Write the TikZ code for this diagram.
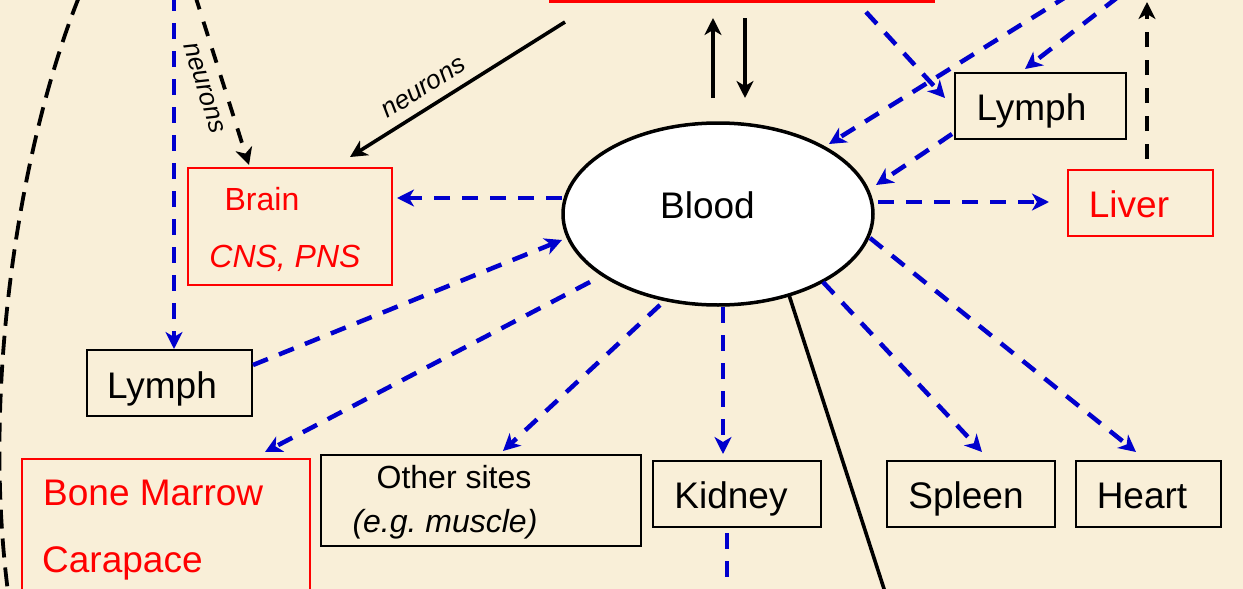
\documentclass[tikz,border=0pt]{standalone}
\usepackage{fontspec}
\setmainfont{Liberation Sans}
\usetikzlibrary{arrows.meta,shapes.geometric}
\definecolor{bgcol}{RGB}{249,239,216}
\definecolor{dblue}{RGB}{0,0,205}
\definecolor{dred}{RGB}{255,0,0}
\begin{document}
\begin{tikzpicture}[x=1pt,y=-1pt,
  tipst/.style={-{Stealth[length=17pt,width=17pt,inset=5pt]}},
  bluedash/.style={draw=dblue,line width=4.5pt,dash pattern=on 16pt off 12pt},
  bluearr/.style={bluedash,tipst},
  blackarr/.style={draw=black,line width=3.6pt,tipst},
  blackdash/.style={draw=black,line width=3.8pt,dash pattern=on 15pt off 13pt},
  redbox/.style={rectangle,draw=dred,line width=2.3pt,inner sep=0pt},
  blkbox/.style={rectangle,draw=black,line width=2.3pt,inner sep=0pt},
  bigtxt/.style={font=\fontsize{37}{42}\selectfont,inner sep=0pt},
  midtxt/.style={font=\fontsize{32}{36}\selectfont,inner sep=0pt},
  smtxt/.style={font=\fontsize{26}{30}\selectfont,inner sep=0pt}]
\useasboundingbox (0,0) rectangle (1243,589);
\fill[bgcol] (0,0) rectangle (1243,589);

% boxes
\node[redbox,minimum width=384pt,minimum height=60pt] (topbox) at (742,-28.5) {};
\node[redbox,minimum width=204pt,minimum height=117pt] (brainbox) at (290,226.5) {};
\node[blkbox,minimum width=165pt,minimum height=66pt] (lymphL) at (169.5,383) {};
\node[redbox,minimum width=288pt,minimum height=180pt] (bonebox) at (166,549) {};
\node[blkbox,minimum width=320pt,minimum height=91pt] (otherbox) at (481,500.5) {};
\node[blkbox,minimum width=168pt,minimum height=66pt] (kidneybox) at (737,494) {};
\node[blkbox,minimum width=168pt,minimum height=66pt] (spleenbox) at (971,494) {};
\node[blkbox,minimum width=145pt,minimum height=66pt] (heartbox) at (1148.5,494) {};
\node[blkbox,minimum width=171pt,minimum height=66pt] (lymphR) at (1040.5,106) {};
\node[redbox,minimum width=145pt,minimum height=66pt] (liverbox) at (1140.5,203) {};
\node[ellipse,draw=black,fill=white,line width=3.5pt,minimum width=310pt,minimum height=182pt,inner sep=0pt] (blood) at (718,214) {};

% texts
\node[bigtxt,anchor=base] (tblood) at (707.5,218) {Blood};
\node[bigtxt,anchor=base] (tlymphR) at (1031.5,120) {Lymph};
\node[bigtxt,anchor=base,text=dred] (tliver) at (1129,217) {Liver};
\node[bigtxt,anchor=base] (tlymphL) at (162,398) {Lymph};
\node[midtxt,anchor=base,text=dred] (tbrain) at (262,210) {Brain};
\node[midtxt,anchor=base,text=dred] (tcns) at (285,267) {\itshape CNS, PNS};
\node[bigtxt,anchor=base west,text=dred] (tbone) at (43,505) {Bone Marrow};
\node[bigtxt,anchor=base west,text=dred] (tcara) at (42,572) {Carapace};
\node[midtxt,anchor=base] (tother) at (454,488) {Other sites};
\node[midtxt,anchor=base] (teg) at (445,532) {\itshape (e.g.\ muscle)};
\node[bigtxt,anchor=base] (tkidney) at (731,508) {Kidney};
\node[bigtxt,anchor=base] (tspleen) at (966,508) {Spleen};
\node[bigtxt,anchor=base] (theart) at (1142,508) {Heart};
\node[smtxt,rotate=32] (tneur1) at (424,88) {\itshape neurons};
\node[smtxt,rotate=-72.6] (tneur2) at (204,88) {\itshape neurons};

% endpoints
\coordinate (bW) at (562,198);
\coordinate (bWL) at (562,240);
\coordinate (bSW1) at (590,282);
\coordinate (bSW2) at (660,305);
\coordinate (bS) at (723,307);
\coordinate (bSE0) at (789,295);
\coordinate (bSE1) at (823,282);
\coordinate (bSE2) at (870,238);
\coordinate (bE) at (878,202);
\coordinate (bNE1) at (876,185);
\coordinate (bNE2) at (829,144);
\coordinate (topA) at (1069,-5);
\coordinate (topB) at (1118,-3);
\coordinate (topC) at (866,12);
\coordinate (topL) at (174,-5);
\coordinate (topN) at (195,-5);
\coordinate (curveA) at (79,-3);
\coordinate (curveB) at (8,592);
\coordinate (bottomK) at (727,600);
\coordinate (bottomS) at (886,595);

% blue dashed connectors
\draw[bluearr] (bW) -- (397,198);
\draw[bluearr] (253,365) -- (bWL);
\draw[bluearr] (bSW1) -- (265,452);
\draw[bluearr] (bSW2) -- (503,451);
\draw[bluearr] (bS) -- (723,454);
\draw[bluedash] (727,533) -- (bottomK);
\draw[bluearr] (bSE1) -- (982,452);
\draw[bluearr] (bSE2) -- (1136,452);
\draw[bluearr] (bE) -- (1049,202);
\draw[bluearr] (952,134) -- (bNE1);
\draw[bluearr] (topB) -- (1025,69);
\draw[bluearr] (topA) -- (bNE2);
\draw[bluearr] (topC) -- (945,98);
\draw[bluearr] (topL) -- (174,349);

% black connectors
\draw[blackdash,tipst] (topN) -- (249,165);
\draw[blackarr] (565,22) -- (350,157);
\draw[blackarr] (713,98) -- (713,18);
\draw[blackarr] (745,18) -- (745,98);
\draw[blackdash,tipst] (1147,159) -- (1147,2);
\draw[black,line width=3.6pt] (bSE0) -- (bottomS);
\draw[black,line width=3.8pt,dash pattern=on 19pt off 10pt] (curveA) .. controls (18,150) and (-18,390) .. (curveB);
\end{tikzpicture}
\end{document}
